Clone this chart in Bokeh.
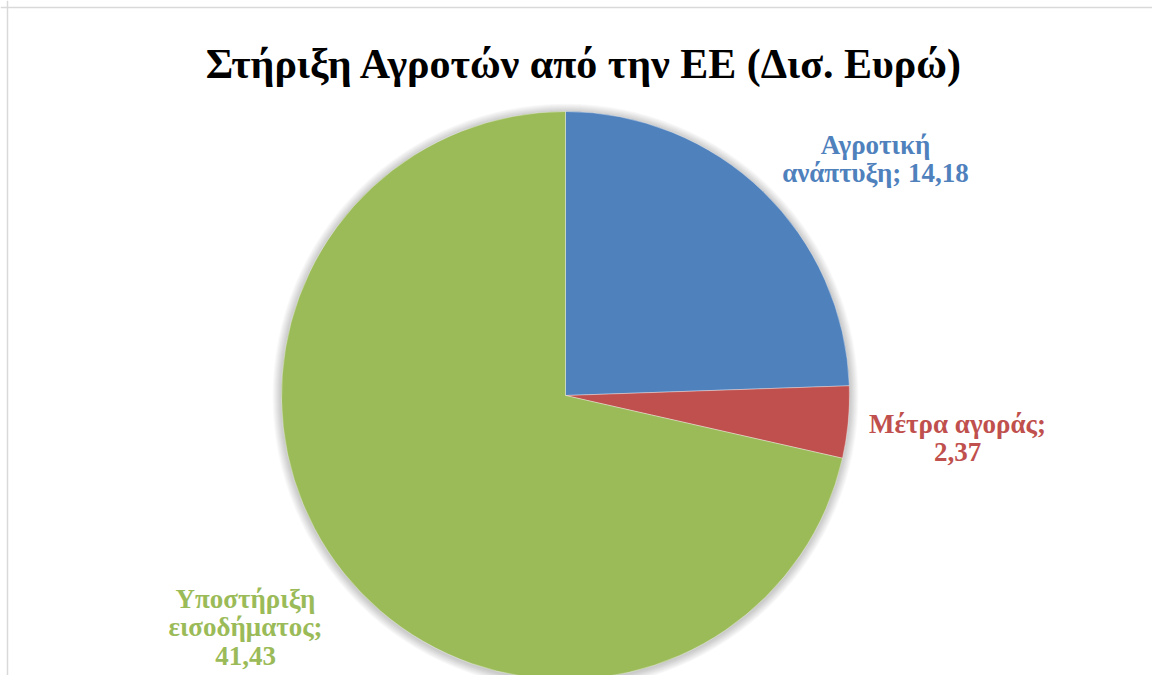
import math
from bokeh.plotting import figure
from bokeh.models import Range1d, Span
from bokeh.core.properties import value
from bokeh.embed import file_html
from bokeh.resources import INLINE

# ---- data ----
title = "Στήριξη Αγροτών από την ΕΕ (Δισ. Ευρώ)"
categories = ["Αγροτική ανάπτυξη", "Μέτρα αγοράς", "Υποστήριξη εισοδήματος"]
values = [14.18, 2.37, 41.43]
colors = ["#4F81BD", "#C0504D", "#9BBB59"]
# label line breaks (as in the original chart)
label_lines = [
    ["Αγροτική", "ανάπτυξη; {v}"],
    ["Μέτρα αγοράς;", "{v}"],
    ["Υποστήριξη", "εισοδήματος;", "{v}"],
]

# ---- layout (x = px from left, y = px from bottom) ----
W, H = 1152, 675
cx, cy, R = 565, H - 395, 284
# label anchors: (center x, first baseline y), line spacing
label_pos = [(875, H - 144), (957, H - 423), (245, H - 598)]
line_step = 28.5

p = figure(width=W, height=H, output_backend="svg", toolbar_location=None,
           x_range=Range1d(0, W), y_range=Range1d(0, H), min_border=0)
p.axis.visible = False
p.grid.visible = False
p.outline_line_color = None
p.background_fill_color = "white"
p.border_fill_color = "white"

# chart border (left / top)
p.add_layout(Span(location=7, dimension="height", line_color="#d9d9d9", line_width=1.5))
p.add_layout(Span(location=H - 7, dimension="width", line_color="#d9d9d9", line_width=1.5))

# soft shadow around the pie
for i in range(1, 10):
    p.circle(x=[cx], y=[cy - 1], radius=R + i, fill_color="black",
             fill_alpha=0.022, line_color=None)

# wedges, clockwise from 12 o'clock
total = sum(values)
start = math.pi / 2
for val, col in zip(values, colors):
    ang = 2 * math.pi * val / total
    end = start
    beg = start - ang
    p.wedge(x=[cx], y=[cy], radius=R, start_angle=beg, end_angle=end,
            fill_color=col, line_color="white", line_width=0.6, line_alpha=0.6)
    start = beg

# labels
for lines, val, col, (lx, ly) in zip(label_lines, values, colors, label_pos):
    vtxt = f"{val:.2f}".replace(".", ",")
    for k, ln in enumerate(lines):
        p.text(x=[lx], y=[ly - k * line_step], text=[ln.format(v=vtxt)],
               text_font=value("Liberation Serif"), text_font_style="bold",
               text_font_size="27px", text_color=col,
               text_align="center", text_baseline="alphabetic")

# title
p.text(x=[584], y=[H - 63], text=[title], text_font=value("Liberation Serif"),
       text_font_style="bold", text_font_size="42px", text_color="black",
       text_align="center", text_baseline="alphabetic")

open("out.html", "w").write(file_html(p, INLINE))
